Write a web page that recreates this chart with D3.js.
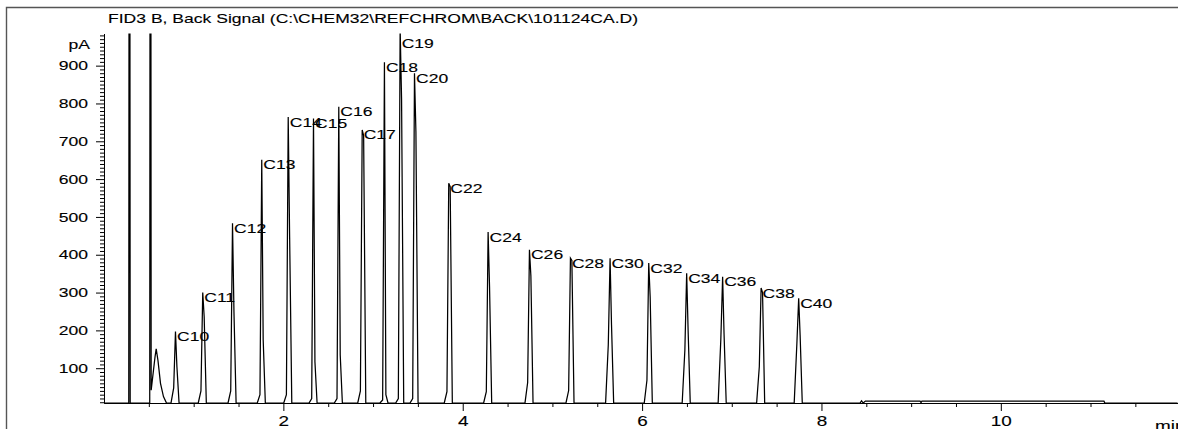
<!DOCTYPE html>
<html>
<head>
<meta charset="utf-8">
<script src="https://cdn.jsdelivr.net/npm/d3@7"></script>
<style>
  html, body { margin: 0; padding: 0; background: #fff; }
  svg { display: block; }
  text { font-family: "Liberation Sans", Arial, sans-serif; fill: #000; stroke: #000; stroke-width: 0.12px; }
</style>
</head>
<body>
<svg id="chart" width="1178" height="429"></svg>
<script>
// ---- Signal description ----
const title = "FID3 B, Back Signal (C:\\CHEM32\\REFCHROM\\BACK\\101124CA.D)";
const yUnit = "pA";
const xUnit = "min";

// n-alkane peaks: retention time (min), apex height (pA),
// the sample just before the apex and the sample just after it (pA)
const peakNames = ["C10","C11","C12","C13","C14","C15","C16","C17","C18","C19","C20",
                   "C22","C24","C26","C28","C30","C32","C34","C36","C38","C40"];
const peakTimes = [0.797, 1.101, 1.433, 1.759, 2.054, 2.336, 2.618, 2.879, 3.127, 3.302, 3.462,
                   3.844, 4.283, 4.744, 5.201, 5.643, 6.074, 6.497, 6.898, 7.327, 7.746];
const peakApex  = [197, 300, 483, 651, 764, 760, 791, 730, 909, 1000, 880,
                   589, 460, 413, 391, 391, 378, 351, 342, 312, 285];
const peakLead  = [48, 40, 40, 30, 30, 20, 20, 40, 16, 20, 20,
                   38, 38, 62, 41, 162, 68, 148, 177, 104, 166];
const peakTrail = [104, 236, 250, 175, 445, 117, 135, 715, 30, 812, 726,
                   580, 315, 344, 385, 215, 289, 201, 190, 300, 188];

// solvent front and the small early peak, as (time, pA) samples
const solventTrace = [
  [0.000, 8], [0.276, 8], [0.284, 3000], [0.292, 8],
  [0.510, 8], [0.518, 3000], [0.526, 42], [0.569, 130], [0.582, 151],
  [0.602, 120], [0.630, 60], [0.663, 25], [0.697, 8]
];
// late part of the run after the last peak
const lateTrace = [
  [8.430, 8], [8.447, 14], [8.465, 8], [8.490, 13], [9.100, 13], [9.110, 9],
  [9.120, 13], [11.150, 13], [11.160, 8], [11.970, 8]
];
const baselineLevel = 8;

const yMajorTicks = [100, 200, 300, 400, 500, 600, 700, 800, 900];
const xMajorTicks = [2, 4, 6, 8, 10];
const xMinorTicks = [0.5, 1, 1.5, 2.5, 3, 3.5, 4.5, 5, 5.5, 6.5, 7, 7.5, 8.5, 9, 9.5, 10.5, 11, 11.5];

// ---- Layout ----
const W = 1178, H = 429;
const plotLeft = 104, plotRight = 1177.5, plotTop = 33.5, plotBottom = 403;
const textStretch = 1.35;
const fontSize = 13;

const svg = d3.select("#chart");

const x = d3.scaleLinear().domain([0, 11.97]).range([plotLeft, plotRight]);
const y = d3.scaleLinear().domain([baselineLevel, 985]).range([plotBottom, plotTop]);

// outer frame (top and left edges)
svg.append("path")
  .attr("d", `M6.5,${H} V7.5 H${W}`)
  .attr("fill", "none")
  .attr("stroke", "#555")
  .attr("stroke-width", 1.4);

function stretchedText(parent, px, py, str, anchor, size) {
  return parent.append("text")
    .attr("transform", `translate(${px},${py}) scale(${textStretch},1)`)
    .attr("text-anchor", anchor)
    .style("font-size", size + "px")
    .text(str);
}

// title
stretchedText(svg, 108, 22.5, title, "start", fontSize);

// ---- Y axis ----
const yMinorTicks = d3.range(10, 990, 10).filter(v => v % 100 !== 0);
svg.append("g")
  .attr("transform", `translate(${plotLeft},0)`)
  .call(d3.axisLeft(y).tickValues(yMinorTicks).tickSize(4).tickFormat(""))
  .call(g => g.select(".domain").remove());

const yAxis = svg.append("g")
  .attr("transform", `translate(${plotLeft},0)`)
  .call(d3.axisLeft(y).tickValues(yMajorTicks).tickSize(8).tickSizeOuter(0).tickFormat(d3.format("d")));
yAxis.selectAll("text")
  .attr("x", -16 / textStretch)
  .attr("transform", `scale(${textStretch},1)`)
  .style("font-size", fontSize + "px")
  .style("font-family", '"Liberation Sans", Arial, sans-serif');
yAxis.selectAll("path, line").attr("stroke", "#000");

stretchedText(svg, 90, 48.5, yUnit, "end", fontSize);

// ---- X axis ----
svg.append("g")
  .attr("transform", `translate(0,${plotBottom})`)
  .call(d3.axisBottom(x).tickValues(xMinorTicks).tickSize(4).tickFormat(""))
  .call(g => g.select(".domain").remove());

const xAxis = svg.append("g")
  .attr("transform", `translate(0,${plotBottom})`)
  .call(d3.axisBottom(x).tickValues(xMajorTicks).tickSize(8).tickSizeOuter(0).tickFormat(d3.format("d")));
xAxis.selectAll("text")
  .attr("y", 13)
  .attr("transform", `scale(${textStretch},1)`)
  .style("font-size", "14px")
  .style("font-family", '"Liberation Sans", Arial, sans-serif');
xAxis.selectAll("path, line").attr("stroke", "#000");

stretchedText(svg, 1155, 431, xUnit, "start", 14);

// ---- Trace ----
svg.append("clipPath").attr("id", "plotClip")
  .append("rect")
  .attr("x", plotLeft).attr("y", plotTop)
  .attr("width", W - plotLeft).attr("height", plotBottom - plotTop + 2);

// sample offsets (min) that make up one narrow peak profile
const profileOffsets = [-0.05, -0.02, 0, 0.016, 0.04];

const trace = solventTrace.slice();
peakTimes.forEach((t, i) => {
  const vals = [baselineLevel, peakLead[i], peakApex[i], peakTrail[i], baselineLevel];
  profileOffsets.forEach((o, k) => trace.push([t + o, vals[k]]));
});
lateTrace.forEach(p => trace.push(p));

const line = d3.line().x(d => x(d[0])).y(d => y(d[1]));

// peak labels (placed at the apex, kept inside the plot)
const labels = svg.append("g");
peakNames.forEach((name, i) => {
  const apexY = y(Math.min(peakApex[i], 972));
  stretchedText(labels, x(peakTimes[i]) + 1.5, apexY + 9.5, name, "start", fontSize);
});

svg.append("path")
  .datum(trace)
  .attr("clip-path", "url(#plotClip)")
  .attr("fill", "none")
  .attr("stroke", "#000")
  .attr("stroke-width", 1.25)
  .attr("stroke-linejoin", "miter")
  .attr("d", line);
</script>
</body>
</html>
